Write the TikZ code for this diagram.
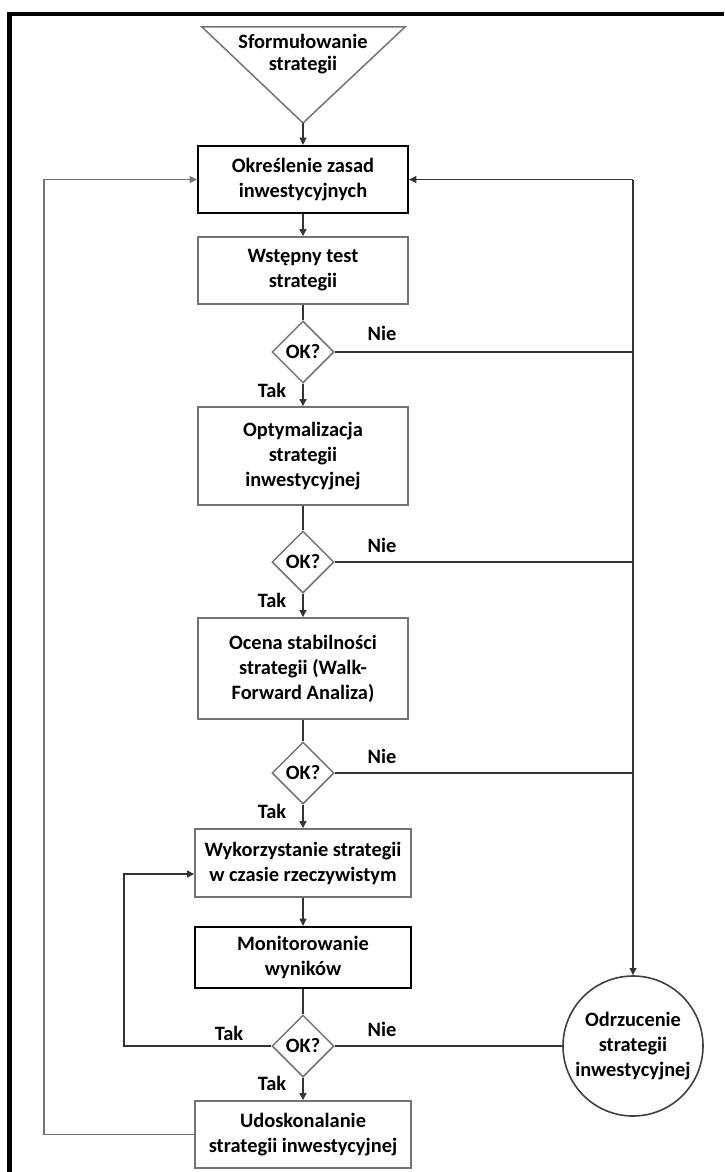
\documentclass[tikz,border=0pt]{standalone}
\usepackage{fontspec}
\setmainfont{Carlito}
\usepackage{tikz}
\usetikzlibrary{shapes.geometric}
\usetikzlibrary{arrows.meta}

\tikzset{
	blok/.style={draw=gray!90!black,line width=0.75pt,fill=white,minimum width=105pt,align=center,inner sep=0pt},
	blokc/.style={blok,draw=black,line width=1.1pt},
	romb/.style={diamond,draw=gray!90!black,line width=0.75pt,minimum width=31pt,minimum height=31pt,inner sep=0pt},
	linia/.style={draw=black!80,line width=0.8pt},
	strz/.style={linia,-{Triangle[length=3.6pt,width=3.4pt]}}
}

\begin{document}
\begin{tikzpicture}[x=0.5pt,y=-0.5pt,font=\fontsize{10.2}{12.5}\selectfont\bfseries]
		\useasboundingbox (0,0) rectangle (724,1172);
		\draw [line width=2.2pt] (9.5,1172)--(9.5,14)--(724,14);
		\draw [draw=gray!90!black,line width=0.75pt] (202,27)--(405,27)--(303,123)--cycle;
		\node (start) at (303,54) [align=center,font=\fontsize{10.2}{11}\selectfont\bfseries] {Sformułowanie\\strategii};
		\coordinate (apex) at (303,123);
		\node (zasady) at (303,179.5) [blokc,minimum height=33.5pt] {Określenie zasad\\inwestycyjnych};
		\node (test) at (303,270.5) [blok,minimum height=33.5pt] {Wstępny test\\strategii};
		\node (ok1) at (303,352) [romb] {OK?};
		\node (optym) at (303,456) [blok,minimum height=49pt] {Optymalizacja\\strategii\\inwestycyjnej};
		\node (ok2) at (303,562) [romb] {OK?};
		\node (ocena) at (303,668.5) [blok,minimum height=50.5pt] {Ocena stabilności\\strategii (Walk-\\Forward Analiza)};
		\node (ok3) at (303,773) [romb] {OK?};
		\node (wykorz) at (303,863) [blok,minimum width=108pt,minimum height=34pt] {Wykorzystanie strategii\\w czasie rzeczywistym};
		\node (monit) at (303,957.5) [blokc,minimum width=108pt,minimum height=30.5pt] {Monitorowanie\\wyników};
		\node (ok4) at (303,1046) [romb] {OK?};
		\node (udosk) at (303,1134.5) [blok,minimum width=108pt,minimum height=33.5pt] {Udoskonalanie\\strategii inwestycyjnej};
		\node (odrz) at (633,1046) [circle,draw=black!75,line width=0.8pt,minimum size=70pt,inner sep=0pt,align=center] {Odrzucenie\\strategii\\inwestycyjnej};
		\coordinate (prawy) at (633,179.5);
		\coordinate (lewy) at (44,179.5);
		\coordinate (petla) at (124,874);
		\draw [strz] (apex)--(zasady);
		\draw [strz] (zasady)--(test);
		\draw [linia] (test)--(ok1);
		\draw [strz] (ok1)--(optym);
		\draw [linia] (optym)--(ok2);
		\draw [strz] (ok2)--(ocena);
		\draw [linia] (ocena)--(ok3);
		\draw [strz] (ok3)--(wykorz);
		\draw [strz] (wykorz)--(monit);
		\draw [linia] (monit)--(ok4);
		\draw [strz] (ok4)--(udosk);
		\draw [linia] (ok1.east)--(ok1.east -| prawy);
		\draw [linia] (ok2.east)--(ok2.east -| prawy);
		\draw [linia] (ok3.east)--(ok3.east -| prawy);
		\draw [linia] (ok4)--(odrz);
		\draw [strz] (prawy)--(odrz);
		\draw [strz] (prawy)--(zasady);
		\draw [strz,draw=gray!90!black] (udosk.west)-|(lewy)--(zasady);
		\draw [strz] (ok4.west)-|(petla)--(wykorz.west |- petla);
		\node (nie1) at (382,333) {Nie};
		\node (nie2) at (382,545) {Nie};
		\node (nie3) at (382,756) {Nie};
		\node (nie4) at (382,1029) {Nie};
		\node (tak1) at (272,390) {Tak};
		\node (tak2) at (272,600) {Tak};
		\node (tak3) at (272,811) {Tak};
		\node (tak4) at (272,1083) {Tak};
		\node (tak5) at (229,1033) {Tak};
\end{tikzpicture}
\end{document}
